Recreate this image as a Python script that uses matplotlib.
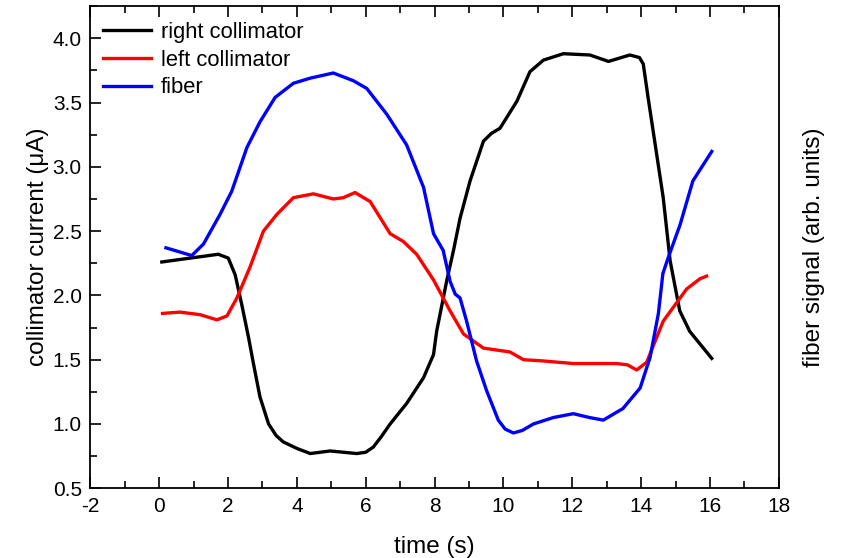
import matplotlib
matplotlib.use('Agg')
import matplotlib.pyplot as plt
from matplotlib.ticker import MultipleLocator

plt.rcParams['font.family'] = ['Liberation Sans', 'DejaVu Sans']
plt.rcParams['axes.unicode_minus'] = False
plt.rcParams['lines.solid_joinstyle'] = 'round'

# right collimator (black)
t_right = [0.08, 0.9, 1.72, 2.01, 2.21, 2.4, 2.6, 2.74, 2.93, 3.18, 3.4, 3.61, 4.0, 4.39, 4.97,
           5.74, 6.0, 6.22, 6.45, 6.71, 7.19, 7.68, 7.97, 8.06, 8.35, 8.55, 8.74, 9.03, 9.42,
           9.65, 9.9, 10.39, 10.77, 11.16, 11.74, 12.51, 13.05, 13.67, 13.95, 14.06, 14.2,
           14.64, 14.84, 15.12, 15.41, 16.05]
i_right = [2.26, 2.29, 2.32, 2.29, 2.16, 1.93, 1.67, 1.47, 1.21, 1.00, 0.91, 0.86, 0.81, 0.77, 0.79,
           0.77, 0.78, 0.82, 0.90, 1.00, 1.16, 1.36, 1.54, 1.72, 2.11, 2.35, 2.60, 2.89, 3.20,
           3.26, 3.30, 3.51, 3.74, 3.83, 3.88, 3.87, 3.82, 3.87, 3.85, 3.80, 3.54,
           2.76, 2.27, 1.88, 1.72, 1.51]

# left collimator (red)
t_left = [0.1, 0.61, 1.19, 1.68, 1.97, 2.26, 2.64, 3.03, 3.42, 3.9, 4.48, 5.06, 5.35, 5.69,
          6.13, 6.71, 7.09, 7.48, 7.97, 8.45, 8.84, 9.42, 10.19, 10.58, 11.16, 12.03, 13.29,
          13.6, 13.87, 14.16, 14.64, 15.13, 15.32, 15.71, 15.9]
i_left = [1.86, 1.87, 1.85, 1.81, 1.84, 1.98, 2.22, 2.50, 2.63, 2.76, 2.79, 2.75, 2.76, 2.80,
          2.73, 2.48, 2.42, 2.32, 2.12, 1.88, 1.70, 1.59, 1.56, 1.50, 1.49, 1.47, 1.47,
          1.46, 1.42, 1.48, 1.80, 1.98, 2.05, 2.13, 2.15]

# fiber (blue)
t_fiber = [0.2, 0.95, 1.29, 1.77, 2.11, 2.55, 2.93, 3.37, 3.9, 4.39, 5.06, 5.64, 6.03, 6.61,
           7.19, 7.68, 7.97, 8.25, 8.45, 8.6, 8.74, 8.93, 9.22, 9.51, 9.85, 10.05, 10.29, 10.55,
           10.87, 11.45, 12.03, 12.5, 12.9, 13.47, 13.97, 14.26, 14.5, 14.63, 14.78, 15.13,
           15.5, 16.05]
s_fiber = [2.37, 2.31, 2.40, 2.63, 2.81, 3.15, 3.35, 3.54, 3.65, 3.69, 3.73, 3.67, 3.61, 3.41,
           3.17, 2.84, 2.48, 2.35, 2.11, 2.01, 1.98, 1.80, 1.49, 1.26, 1.03, 0.96, 0.93, 0.95,
           1.00, 1.05, 1.08, 1.05, 1.03, 1.12, 1.28, 1.52, 1.86, 2.17, 2.29, 2.55,
           2.89, 3.12]

fig = plt.figure(figsize=(8.43, 5.58), dpi=100)
ax = fig.add_axes([0.107, 0.125, 0.817, 0.864])

ax.plot(t_right, i_right, color='black', lw=2.4, label='right collimator')
ax.plot(t_left, i_left, color='red', lw=2.4, label='left collimator')
ax.plot(t_fiber, s_fiber, color='blue', lw=2.4, label='fiber')

ax.set_xlim(-2, 18)
ax.set_ylim(0.5, 4.25)
ax.xaxis.set_major_locator(MultipleLocator(2))
ax.xaxis.set_minor_locator(MultipleLocator(1))
ax.yaxis.set_major_locator(MultipleLocator(0.5))
ax.yaxis.set_minor_locator(MultipleLocator(0.25))
ax.tick_params(which='both', direction='in', top=True, right=True, labelsize=15, width=1.2)
ax.tick_params(which='major', length=8, pad=6)
ax.tick_params(which='minor', length=5)
for sp in ax.spines.values():
    sp.set_linewidth(1.3)

ax.set_xlabel('time (s)', fontsize=17.5, labelpad=15)
ax.set_ylabel('collimator current (\u03bcA)', fontsize=17.5, labelpad=3)

ax2 = ax.twinx()
ax2.set_ylim(ax.get_ylim())
ax2.set_yticks([])
ax2.set_ylabel('fiber signal (arb. units)', fontsize=17.5, labelpad=17)
for sp in ax2.spines.values():
    sp.set_visible(False)

ax.legend(loc='upper left', frameon=False, fontsize=15.8, handlelength=2.2,
          handletextpad=0.45, labelspacing=0.3, borderaxespad=0.5,
          bbox_to_anchor=(-0.01, 1.008))

fig.savefig('out.png', dpi=100)
